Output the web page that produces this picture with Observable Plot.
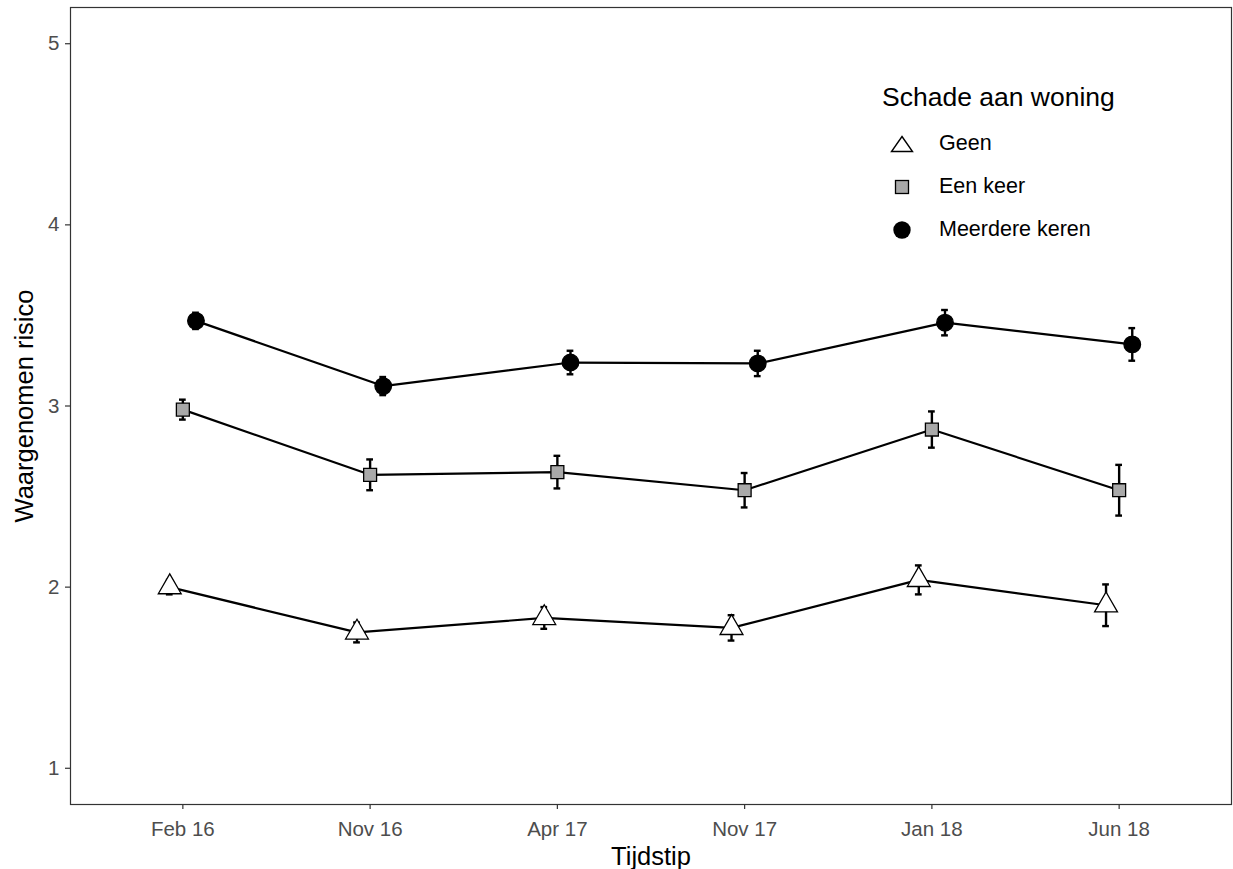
<!DOCTYPE html>
<html>
<head>
<meta charset="utf-8">
<script src="https://cdn.jsdelivr.net/npm/d3@7"></script>
<script src="https://cdn.jsdelivr.net/npm/@observablehq/plot@0.6"></script>
<style>
  body { margin: 0; background: #fff; font-family: "Liberation Sans", Arial, sans-serif; }
  #wrap { position: relative; width: 1233px; height: 869px; }
  #legend { position: absolute; left: 882px; top: 81px; color: #000; }
  #legend .title { font-size: 26.5px; line-height: 32px; margin-bottom: 9px; white-space: nowrap; }
  #legend .row { display: flex; align-items: center; height: 43px; font-size: 21.5px; white-space: nowrap; }
  #legend .row svg { width: 40px; height: 24px; margin-left: 0px; margin-right: 17px; }
</style>
</head>
<body>
<div id="wrap">
  <div id="chart"></div>
  <div id="legend"></div>
</div>
<script>
const categories = ["Feb 16", "Nov 16", "Apr 17", "Nov 17", "Jan 18", "Jun 18"];
const groups = ["Geen", "Een keer", "Meerdere keren"];
const geenMean = [2.00, 1.75, 1.83, 1.775, 2.04, 1.90];
const geenErr  = [0.04, 0.055, 0.06, 0.07, 0.08, 0.115];
const eenMean  = [2.98, 2.62, 2.635, 2.535, 2.87, 2.535];
const eenErr   = [0.055, 0.085, 0.09, 0.095, 0.10, 0.14];
const meerMean = [3.47, 3.11, 3.24, 3.235, 3.46, 3.34];
const meerErr  = [0.045, 0.05, 0.065, 0.07, 0.07, 0.09];
const yTicks = [1, 2, 3, 4, 5];

const means = [geenMean, eenMean, meerMean];
const errs = [geenErr, eenErr, meerErr];
const dodge = [-0.07, 0, 0.07];
const styles = [
  {symbol: "triangle", fill: "#ffffff", r: 8.5},
  {symbol: "square", fill: "#a9a9a9", r: 7.3},
  {symbol: "circle", fill: "#000000", r: 8.3}
];

const data = [];
groups.forEach((g, gi) => {
  categories.forEach((c, i) => {
    data.push({group: g, gi, x: i + dodge[gi], y: means[gi][i], lo: means[gi][i] - errs[gi][i], hi: means[gi][i] + errs[gi][i]});
  });
});

const cap = 0.018;
const marks = [
  Plot.axisY({ticks: yTicks, tickFormat: d3.format("d"), tickSize: 5, tickPadding: 6, fontSize: 20.5, fill: "#4d4d4d", stroke: "#333", strokeWidth: 1.2, label: null}),
  Plot.axisX({ticks: d3.range(categories.length), tickFormat: i => categories[i], tickSize: 5, tickPadding: 12, fontSize: 20.5, fill: "#4d4d4d", stroke: "#333", strokeWidth: 1.2, label: null}),
  Plot.text(["Waargenomen risico"], {frameAnchor: "left", textAnchor: "middle", dx: -46, rotate: -90, fontSize: 25.5, fill: "#000"}),
  Plot.text(["Tijdstip"], {frameAnchor: "bottom", textAnchor: "middle", dy: 60, fontSize: 25.5, fill: "#000"}),
];
groups.forEach((g, gi) => {
  const d = data.filter(e => e.gi === gi);
  marks.push(Plot.line(d, {x: "x", y: "y", stroke: "#000", strokeWidth: 2.2}));
});
marks.push(Plot.ruleX(data, {x: "x", y1: "lo", y2: "hi", stroke: "#000", strokeWidth: 2.4}));
marks.push(Plot.ruleY(data, {y: "lo", x1: d => d.x - cap, x2: d => d.x + cap, stroke: "#000", strokeWidth: 2.4}));
marks.push(Plot.ruleY(data, {y: "hi", x1: d => d.x - cap, x2: d => d.x + cap, stroke: "#000", strokeWidth: 2.4}));
groups.forEach((g, gi) => {
  const d = data.filter(e => e.gi === gi);
  marks.push(Plot.dot(d, {x: "x", y: "y", symbol: styles[gi].symbol, r: styles[gi].r, fill: styles[gi].fill, stroke: "#000", strokeWidth: 1.3}));
});
marks.push(Plot.frame({stroke: "#333", strokeWidth: 1.2}));

const chart = Plot.plot({
  width: 1233,
  height: 869,
  marginLeft: 70,
  marginRight: 2,
  marginTop: 7,
  marginBottom: 65,
  style: {fontFamily: "'Liberation Sans', Arial, sans-serif", background: "#fff"},
  x: {type: "linear", domain: [-0.6, categories.length - 0.4], axis: null},
  y: {domain: [0.8, 5.2], axis: null},
  marks
});
document.getElementById("chart").appendChild(chart);

// legend
const legend = document.getElementById("legend");
const t = document.createElement("div");
t.className = "title";
t.textContent = "Schade aan woning";
legend.appendChild(t);
const shapes = [
  '<polygon points="20,4.5 30.5,19.5 9.5,19.5" fill="#fff" stroke="#000" stroke-width="1.4"/>',
  '<rect x="13.5" y="5.5" width="13" height="13" fill="#a9a9a9" stroke="#000" stroke-width="1.3"/>',
  '<circle cx="20" cy="12" r="8.7" fill="#000"/>'
];
groups.forEach((g, gi) => {
  const row = document.createElement("div");
  row.className = "row";
  row.innerHTML = `<svg viewBox="0 0 40 24">${shapes[gi]}</svg><span>${g}</span>`;
  legend.appendChild(row);
});
</script>
</body>
</html>
